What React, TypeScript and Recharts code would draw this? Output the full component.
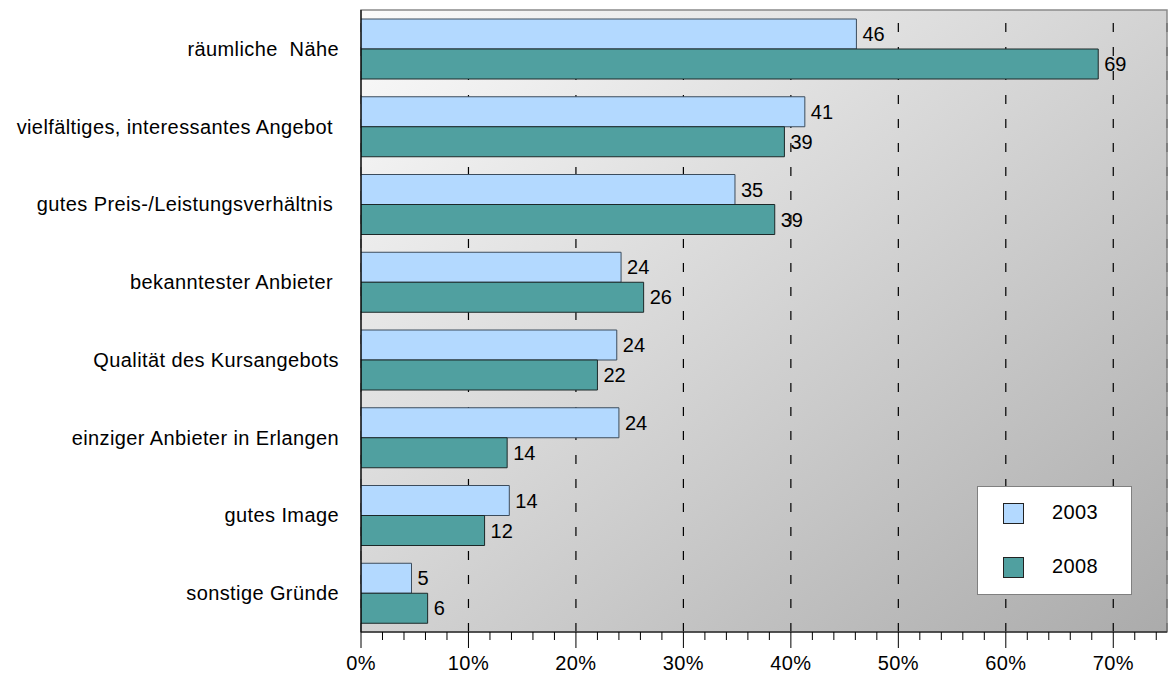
import React from "react";
import {
  BarChart,
  Bar,
  XAxis,
  YAxis,
  CartesianGrid,
  LabelList,
  Legend,
  ReferenceArea,
} from "recharts";

const categories = [
  "räumliche  Nähe",
  "vielfältiges, interessantes Angebot ",
  "gutes Preis-/Leistungsverhältnis ",
  "bekanntester Anbieter ",
  "Qualität des Kursangebots",
  "einziger Anbieter in Erlangen",
  "gutes Image",
  "sonstige Gründe",
];
const values2003 = [46.1, 41.3, 34.8, 24.2, 23.8, 24.0, 13.8, 4.7];
const values2008 = [68.6, 39.4, 38.5, 26.3, 22.0, 13.6, 11.5, 6.2];
const labels2003 = [46, 41, 35, 24, 24, 24, 14, 5];
const labels2008 = [69, 39, 39, 26, 22, 14, 12, 6];
const seriesNames = ["2003", "2008"];
const xTicks = [0, 2, 4, 6, 8, 10, 12, 14, 16, 18, 20, 22, 24, 26, 28, 30, 32, 34, 36, 38, 40, 42, 44, 46, 48, 50, 52, 54, 56, 58, 60, 62, 64, 66, 68, 70, 72, 74];
const majorTicks = [0, 10, 20, 30, 40, 50, 60, 70];
const gridValues = [10, 20, 30, 40, 50, 60, 70];

const data = categories.map((name, i) => ({
  name,
  v2003: values2003[i],
  v2008: values2008[i],
  l2003: labels2003[i],
  l2008: labels2008[i],
}));

const FONT = "Arial, 'Liberation Sans', sans-serif";
const FS = 20;
const LS = 0.4;
const C2003 = "#b3d9ff";
const C2008 = "#50a0a0";

const YTick = (props: any) => {
  const { x, y, payload } = props;
  return (
    <text
      x={x}
      y={y}
      dy="0.355em"
      textAnchor="end"
      xmlSpace="preserve"
      style={{ whiteSpace: "pre", fontFamily: FONT, fontSize: FS, letterSpacing: LS }}
      fill="#000"
    >
      {payload.value}
    </text>
  );
};

const XTick = (props: any) => {
  const { x, y, payload } = props;
  const isMajor = majorTicks.includes(payload.value);
  return (
    <g>
      <line x1={x} y1={y} x2={x} y2={y + (isMajor ? 16 : 8)} stroke="#000" strokeWidth={1} />
      {isMajor && (
        <text
          x={x}
          y={y + 24}
          dy="0.71em"
          textAnchor="middle"
          style={{ fontFamily: FONT, fontSize: FS, letterSpacing: LS }}
          fill="#000"
        >
          {payload.value + "%"}
        </text>
      )}
    </g>
  );
};

const LegendBox = () => (
  <div
    style={{
      width: 155,
      height: 109,
      boxSizing: "border-box",
      border: "1px solid #808080",
      background: "#fff",
      position: "relative",
      fontFamily: FONT,
      fontSize: FS,
    }}
  >
    {seriesNames.map((n, i) => (
      <div key={n}>
        <div
          style={{
            position: "absolute",
            left: 25,
            top: 16 + i * 54,
            width: 21,
            height: 21,
            boxSizing: "border-box",
            border: "1px solid #222",
            background: i === 0 ? C2003 : C2008,
          }}
        />
        <div
          style={{
            position: "absolute",
            left: 74,
            top: 13 + i * 54,
            lineHeight: "24px",
            letterSpacing: LS,
            color: "#000",
          }}
        >
          {n}
        </div>
      </div>
    ))}
  </div>
);

export default function App() {
  return (
    <div style={{ position: "absolute", left: 0, top: 0, width: 1172, height: 675, background: "#fff" }}>
      <svg width={0} height={0} style={{ position: "absolute" }}>
        <defs>
          <linearGradient id="plotBg" x1="0" y1="0" x2="1" y2="1">
            <stop offset="0%" stopColor="#fbfbfb" />
            <stop offset="100%" stopColor="#ababab" />
          </linearGradient>
        </defs>
      </svg>
      <BarChart
        width={1172}
        height={675}
        data={data}
        layout="vertical"
        margin={{ top: 10, right: 5, bottom: 0, left: 0 }}
        barSize={30}
        barGap={0}
      >
        <CartesianGrid
          xAxisId="grid"
          horizontal={false}
          vertical={true}
          fill="url(#plotBg)"
          fillOpacity={1}
          stroke="#000"
          strokeWidth={1.2}
          strokeDasharray="9 15"
          strokeDashoffset={11}
        />
        <ReferenceArea
          x1={0}
          x2={75}
          fill="none"
          stroke="#8a8a8a"
          strokeWidth={1.5}
          ifOverflow="visible"
        />
        <XAxis
          xAxisId="grid"
          type="number"
          domain={[0, 75]}
          ticks={gridValues}
          interval={0}
          hide
          allowDataOverflow
        />
        <XAxis
          type="number"
          domain={[0, 75]}
          ticks={xTicks}
          interval={0}
          height={43}
          tickSize={0}
          tickMargin={0}
          tickLine={false}
          axisLine={{ stroke: "#000", strokeWidth: 1.2 }}
          tick={<XTick />}
          allowDataOverflow
        />
        <YAxis
          type="category"
          dataKey="name"
          width={361}
          tickSize={0}
          tickMargin={22}
          tickLine={false}
          axisLine={{ stroke: "#000", strokeWidth: 1.2 }}
          tick={<YTick />}
          interval={0}
        />
        <Legend
          verticalAlign="middle"
          align="center"
          layout="horizontal"
          content={() => <LegendBox />}
          wrapperStyle={{ position: "absolute", left: 977, top: 486, width: 155, height: 109 }}
        />
        <Bar dataKey="v2003" name="2003" fill={C2003} stroke="#3c4c5c" strokeWidth={1} isAnimationActive={false}>
          <LabelList
            dataKey="l2003"
            position="right"
            offset={6}
            style={{ fontFamily: FONT, fontSize: FS }}
            fill="#000"
          />
        </Bar>
        <Bar dataKey="v2008" name="2008" fill={C2008} stroke="#1c2828" strokeWidth={1} isAnimationActive={false}>
          <LabelList
            dataKey="l2008"
            position="right"
            offset={6}
            style={{ fontFamily: FONT, fontSize: FS }}
            fill="#000"
          />
        </Bar>
      </BarChart>
    </div>
  );
}
